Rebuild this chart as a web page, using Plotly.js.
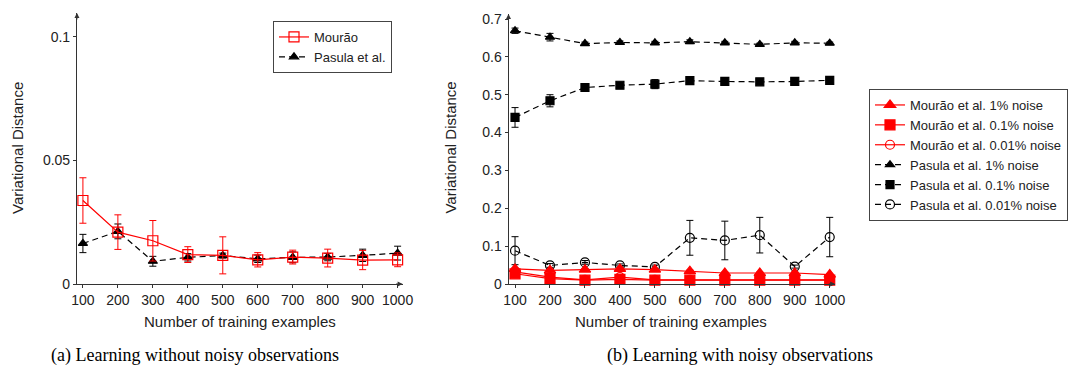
<!DOCTYPE html>
<html>
<head>
<meta charset="utf-8">
<script src="https://cdn.plot.ly/plotly-3.0.1.min.js"></script>
<style>html,body{margin:0;padding:0;background:#fff}#chart{width:1068px;height:367px}</style>
</head>
<body>
<div id="chart"></div>
<script>
// ---- data ----
const trainingSizes = [100, 200, 300, 400, 500, 600, 700, 800, 900, 1000];

// (a) without noise
const mouraoClean    = [0.0338, 0.0210, 0.0175, 0.0119, 0.0116, 0.0098, 0.0109, 0.0105, 0.0097, 0.0098];
const mouraoCleanErr = [0.0092, 0.0070, 0.0082, 0.0032, 0.0075, 0.0029, 0.0028, 0.0036, 0.0039, 0.0028];
const pasulaClean    = [0.0164, 0.0213, 0.0092, 0.0108, 0.0115, 0.0102, 0.0108, 0.0109, 0.0116, 0.0125];
const pasulaCleanErr = [0.0037, 0.0030, 0.0020, 0.0015, 0.0010, 0.0015, 0.0022, 0.0015, 0.0025, 0.0028];

// (b) with noise
const mourao1     = [0.040, 0.036, 0.038, 0.040, 0.038, 0.034, 0.029, 0.029, 0.029, 0.025];
const mourao01    = [0.027, 0.014, 0.010, 0.012, 0.010, 0.010, 0.010, 0.010, 0.010, 0.010];
const mourao001   = [0.032, 0.018, 0.011, 0.018, 0.011, 0.011, 0.011, 0.011, 0.011, 0.011];
const mouraoNoisyErr = [0.003, 0.003, 0.003, 0.003, 0.003, 0.003, 0.003, 0.003, 0.003, 0.003];
const pasula1     = [0.669, 0.652, 0.635, 0.638, 0.637, 0.640, 0.637, 0.633, 0.637, 0.636];
const pasula1Err  = [0.007, 0.010, 0.004, 0.004, 0.004, 0.005, 0.004, 0.003, 0.004, 0.003];
const pasula01    = [0.440, 0.484, 0.519, 0.525, 0.528, 0.537, 0.535, 0.534, 0.535, 0.538];
const pasula01Err = [0.026, 0.016, 0.006, 0.006, 0.012, 0.006, 0.005, 0.006, 0.005, 0.006];
const pasula001   = [0.088, 0.049, 0.057, 0.049, 0.045, 0.122, 0.115, 0.129, 0.046, 0.124];
const pasula001Err= [0.037, 0.005, 0.005, 0.004, 0.005, 0.046, 0.051, 0.047, 0.004, 0.052];

const leftYTicks = [0, 0.05, 0.1];
const leftYLabels = ["0", "0.05", "0.1"];
const rightYTicks = [0, 0.1, 0.2, 0.3, 0.4, 0.5, 0.6, 0.7];
const rightYLabels = ["0", "0.1", "0.2", "0.3", "0.4", "0.5", "0.6", "0.7"];

const xTitle = "Number of training examples";
const yTitle = "Variational Distance";
const captionA = "(a) Learning without noisy observations";
const captionB = "(b) Learning with noisy observations";

// ---- styles ----
const RED = "#ff0000", BLACK = "#000000";
const DASH = "6px,4px";

function tr(x, y, err, name, color, dash, symbol, size, xa, ya, legend, rank) {
  return {
    type: "scatter", mode: "lines+markers", x: x, y: y, name: name,
    xaxis: xa, yaxis: ya, legend: legend, legendrank: rank, showlegend: true,
    line: {color: color, width: 1.2, dash: dash},
    marker: {symbol: symbol, size: size, color: color,
             line: {color: color, width: 1.2}},
    error_y: {type: "data", array: err, visible: true, color: color, thickness: 1, width: 3.5},
    cliponaxis: false
  };
}

const data = [
  tr(trainingSizes, pasulaClean, pasulaCleanErr, "Pasula et al.", BLACK, DASH, "triangle-up", 8, "x", "y", "legend", 2),
  tr(trainingSizes, mouraoClean, mouraoCleanErr, "Mourão", RED, "solid", "square-open", 10, "x", "y", "legend", 1),

  tr(trainingSizes, pasula1, pasula1Err, "Pasula et al. 1% noise", BLACK, DASH, "triangle-up", 8, "x2", "y2", "legend2", 4),
  tr(trainingSizes, pasula01, pasula01Err, "Pasula et al. 0.1% noise", BLACK, DASH, "square", 8, "x2", "y2", "legend2", 5),
  tr(trainingSizes, pasula001, pasula001Err, "Pasula et al. 0.01% noise", BLACK, DASH, "circle-open", 9, "x2", "y2", "legend2", 6),
  tr(trainingSizes, mourao001, mouraoNoisyErr, "Mourão et al. 0.01% noise", RED, "solid", "circle-open", 9, "x2", "y2", "legend2", 3),
  tr(trainingSizes, mourao01, mouraoNoisyErr, "Mourão et al. 0.1% noise", RED, "solid", "square", 10, "x2", "y2", "legend2", 2),
  tr(trainingSizes, mourao1, mouraoNoisyErr, "Mourão et al. 1% noise", RED, "solid", "triangle-up", 10, "x2", "y2", "legend2", 1)
];

const W = 1068, H = 367;
const SANS = "Liberation Sans, Arial, sans-serif";
const tickFont = {family: SANS, size: 14, color: "#222"};
const titleFont = {family: SANS, size: 15, color: "#222"};

function xAxis(domain, range, anchor) {
  return {
    domain: domain, range: range, anchor: anchor,
    tickvals: trainingSizes, ticktext: trainingSizes.map(String),
    showgrid: false, zeroline: false, showline: true, linecolor: "#333", linewidth: 1,
    ticks: "outside", ticklen: 3, tickcolor: "#333", tickfont: tickFont,
    automargin: false
  };
}
function yAxis(domain, range, anchor, tv, tt) {
  return {
    domain: domain, range: range, anchor: anchor,
    tickvals: tv, ticktext: tt,
    showgrid: false, zeroline: false, showline: true, linecolor: "#333", linewidth: 1,
    ticks: "outside", ticklen: 3, tickcolor: "#333", tickfont: tickFont,
    automargin: false
  };
}

function arrow(xref, yref, x, y, ax, ay) {
  return {xref: xref, yref: yref, x: x, y: y, ax: ax, ay: ay, axref: "pixel", ayref: "pixel",
          text: "", showarrow: true, arrowhead: 2, arrowsize: 1, arrowwidth: 1, arrowcolor: "#333"};
}
function yTitleAnn(xpx) {
  return {xref: "paper", yref: "paper", x: xpx / W, y: (H - 148) / H, xanchor: "center", yanchor: "middle",
          text: yTitle, textangle: -90, showarrow: false, font: titleFont};
}
function xTitleAnn(xpx) {
  return {xref: "paper", yref: "paper", x: xpx / W, y: (H - 321) / H, xanchor: "center", yanchor: "middle",
          text: xTitle, showarrow: false, font: titleFont};
}

const captionFont = {family: "Liberation Serif, Times New Roman, serif", size: 18, color: "#000"};
const legendFont = {family: SANS, size: 13, color: "#222"};

const layout = {
  width: W, height: H,
  margin: {l: 0, r: 0, t: 0, b: 0},
  paper_bgcolor: "#fff", plot_bgcolor: "#fff",
  showlegend: true,
  xaxis: xAxis([77 / W, 403 / W], [82.9, 1014.3], "y"),
  yaxis: yAxis([(H - 284) / H, (H - 13) / H], [0, 0.1097], "x", leftYTicks, leftYLabels),
  xaxis2: xAxis([509 / W, 836 / W], [81.4, 1015.7], "y2"),
  yaxis2: yAxis([(H - 284) / H, (H - 14) / H], [0, 0.7132], "x2", rightYTicks, rightYLabels),
  legend: {x: 273 / W, y: (H - 21) / H, xanchor: "left", yanchor: "top",
           bgcolor: "#fff", bordercolor: "#444", borderwidth: 1,
           font: legendFont, tracegroupgap: 0, itemwidth: 30},
  legend2: {x: 870 / W, y: (H - 89) / H, xanchor: "left", yanchor: "top",
           bgcolor: "#fff", bordercolor: "#444", borderwidth: 1,
           font: legendFont, tracegroupgap: 0, itemwidth: 30},
  annotations: [
    arrow("x domain", "y domain", 1, 0, -8, 0),
    arrow("x domain", "y domain", 0, 1, 0, 8),
    arrow("x2 domain", "y2 domain", 1, 0, -8, 0),
    arrow("x2 domain", "y2 domain", 0, 1, 0, 8),
    yTitleAnn(18),
    yTitleAnn(451),
    xTitleAnn(240),
    xTitleAnn(672),
    {xref: "paper", yref: "paper", x: 195 / W, y: (H - 355) / H, xanchor: "center", yanchor: "middle",
     text: captionA, showarrow: false, font: captionFont},
    {xref: "paper", yref: "paper", x: 741 / W, y: (H - 355) / H, xanchor: "center", yanchor: "middle",
     text: captionB, showarrow: false, font: captionFont}
  ]
};

Plotly.newPlot("chart", data, layout, {displayModeBar: false, staticPlot: true});
</script>
</body>
</html>
